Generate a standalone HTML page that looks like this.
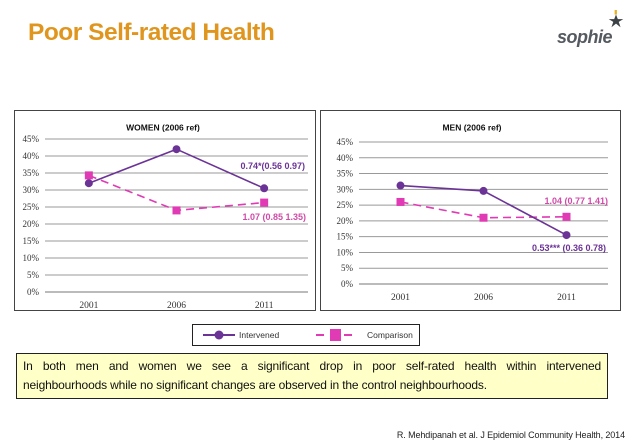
<!DOCTYPE html>
<html><head><meta charset="utf-8"><style>
body{margin:0;width:638px;height:448px;background:#fff;overflow:hidden;font-family:"Liberation Sans",sans-serif;position:relative}
.t{position:absolute}
</style></head><body>
<div class="t" style="left:28px;top:19px;font-size:24.5px;font-weight:bold;color:#e0961e;letter-spacing:-0.5px">Poor Self-rated Health</div>
<div class="t" style="left:557px;top:27px;font-size:18px;font-weight:bold;font-style:italic;color:#555a60;letter-spacing:-0.5px">sophie</div>
<svg class="t" style="left:606px;top:9px" width="20" height="22" viewBox="0 0 22 24"><rect x="9.5" y="1" width="2.5" height="5" fill="#e8b020"/><polygon points="11,6 13,11 19,11 14,14 16,20 11,16 6,20 8,14 3,11 9,11" fill="#3c4146"/></svg>
<svg class="t" style="left:0;top:0" width="638" height="448" id="chart"></svg>
<div class="t" style="left:192px;top:324px;width:228px;height:22px;border:1px solid #222;box-sizing:border-box;font-size:8.5px;color:#333">
<svg class="t" style="left:10px;top:4px" width="32" height="12"><line x1="0" y1="6" x2="32" y2="6" stroke="#6b3396" stroke-width="2"/><circle cx="16" cy="6" r="4.5" fill="#6b3396"/></svg>
<span class="t" style="left:46px;top:5px">Intervened</span>
<svg class="t" style="left:123px;top:4px" width="40" height="12"><line x1="0" y1="6" x2="40" y2="6" stroke="#e03ab4" stroke-width="2" stroke-dasharray="8,6"/><rect x="14" y="0" width="11" height="12" fill="#e03ab4"/></svg>
<span class="t" style="left:174px;top:5px">Comparison</span>
</div>
<div class="t" style="left:16px;top:353px;width:592px;height:46px;border:1.5px solid #222;box-sizing:border-box;background:#ffffc8;font-size:12px;line-height:19px;padding:3px 6px;color:#111;letter-spacing:-0.15px">
<div style="text-align:justify;text-align-last:justify">In both men and women we see a significant drop in poor self-rated health within intervened</div>
<div>neighbourhoods while no significant changes are observed in the control neighbourhoods.</div>
</div>
<div class="t" style="right:13px;top:430px;font-size:9px;color:#222;letter-spacing:-0.1px">R. Mehdipanah et al. J Epidemiol Community Health, 2014</div>
<script>
const years=["2001","2006","2011"];
const ticks=[0,5,10,15,20,25,30,35,40,45];
const womenIntervened=[32,42,30.5];
const womenComparison=[34.3,24,26.3];
const menIntervened=[31.2,29.5,15.5];
const menComparison=[26,21,21.3];
const svg=document.getElementById('chart');
const NS='http://www.w3.org/2000/svg';
function mk(tag,attrs,parent){const e=document.createElementNS(NS,tag);for(const k in attrs)e.setAttribute(k,attrs[k]);(parent||svg).appendChild(e);return e;}
function panel(cfg){
  const g=mk('g',{});
  
  
  const box=mk('rect',{x:cfg.bx,y:cfg.by,width:cfg.bw,height:cfg.bh,fill:'#fff',stroke:'#444','stroke-width':1},g);
  
  
  const y=v=>cfg.y0-(v/45)*(cfg.y0-cfg.y45);
  const step=(cfg.x1-cfg.x0)/years.length;
  const x=i=>cfg.x0+step*(i+0.5);
  ticks.forEach(t=>{
    const l=mk('line',{x1:cfg.x0,x2:cfg.x1,y1:y(t),y2:y(t),stroke:t===0?'#777':'#999','stroke-width':1},g);
    
    
    const tx=mk('text',{x:cfg.x0-6,y:y(t)+3,'text-anchor':'end','font-size':9,'font-family':'Liberation Serif, serif',fill:'#333'},g);
    tx.textContent=t+'%';
    
    
  });
  years.forEach((yr,i)=>{
    const tx=mk('text',{x:x(i),y:cfg.y0+16,'text-anchor':'middle','font-size':9.5,'font-family':'Liberation Serif, serif',fill:'#333'},g);
    tx.textContent=yr;
    
    
  });
  const ti=mk('text',{x:cfg.tx,y:cfg.by+20,'text-anchor':'middle','font-size':8.5,'font-weight':'bold',fill:'#111'},g);
  ti.textContent=cfg.title;
  
  
  const cp=mk('polyline',{points:cfg.comp.map((v,i)=>x(i)+','+y(v)).join(' '),fill:'none',stroke:'#e03ab4','stroke-width':1.6,'stroke-dasharray':'8,5'},g);
  
  
  const ip=mk('polyline',{points:cfg.int.map((v,i)=>x(i)+','+y(v)).join(' '),fill:'none',stroke:'#6b3396','stroke-width':1.6},g);
  
  
  cfg.comp.forEach((v,i)=>{
    const r=mk('rect',{x:x(i)-4,y:y(v)-4,width:8,height:8,fill:'#e03ab4'},g);
    
    
  });
  cfg.int.forEach((v,i)=>{
    const c=mk('circle',{cx:x(i),cy:y(v),r:4,fill:'#6b3396'},g);
    
    
  });
  cfg.labels.forEach(L=>{
    const t=mk('text',{x:L.x,y:L.y,'text-anchor':'end','font-size':9,'font-weight':'bold',fill:L.c},g);
    t.textContent=L.t;
    
    
  });
}
panel({name:'women-chart',bx:14.5,by:110.5,bw:301,bh:200,x0:45,x1:308,y0:292,y45:139,tx:163,title:'WOMEN   (2006 ref)',
  int:womenIntervened,comp:womenComparison,
  labels:[{t:'0.74*(0.56  0.97)',x:305,y:169,c:'#6b3396'},{t:'1.07 (0.85  1.35)',x:306,y:220,c:'#d04aa8'}]});
panel({name:'men-chart',bx:320.5,by:110.5,bw:300,bh:200,x0:359,x1:608,y0:284,y45:142,tx:472,title:'MEN  (2006 ref)',
  int:menIntervened,comp:menComparison,
  labels:[{t:'1.04 (0.77  1.41)',x:608,y:204,c:'#d04aa8'},{t:'0.53*** (0.36  0.78)',x:606,y:251,c:'#6b3396'}]});
</script>
</body></html>
